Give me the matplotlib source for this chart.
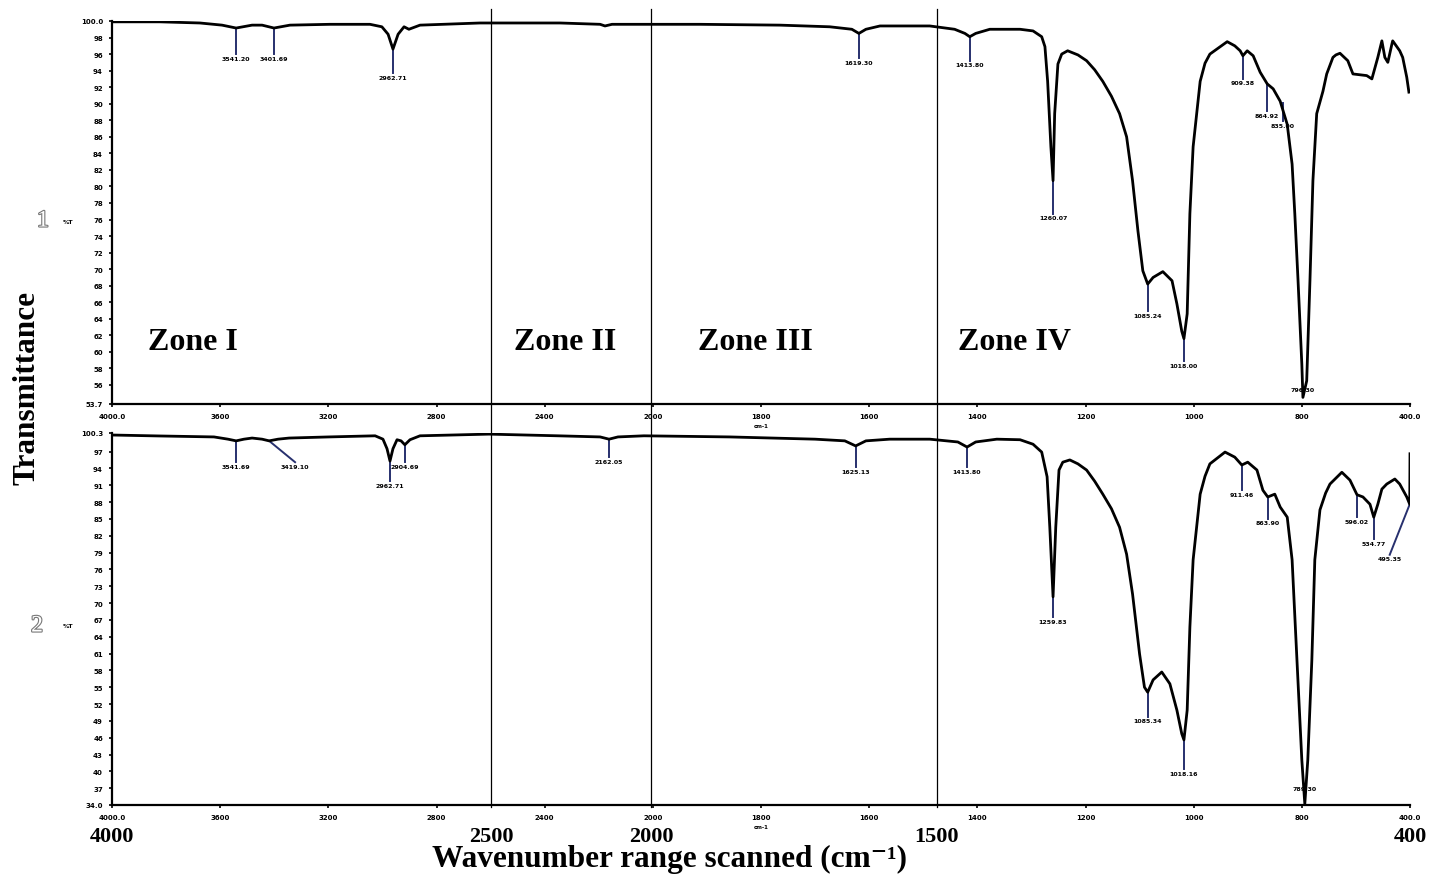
import numpy as np
import matplotlib.pyplot as plt
from matplotlib import patheffects
from matplotlib.transforms import blended_transform_factory

# Spectrum 1 (upper panel)
top_wn = [4000, 3823, 3675, 3593, 3541, 3482, 3445, 3401, 3342, 3194, 3046, 3002, 2979, 2961,
          2942, 2920, 2902, 2861, 2639, 2343, 2195, 2177, 2151, 1913, 1765, 1673, 1632, 1619,
          1606, 1580, 1488, 1442, 1423, 1414, 1403, 1377, 1321, 1297, 1281, 1275, 1270, 1264,
          1260, 1257, 1251, 1244, 1233, 1214, 1198, 1183, 1168, 1152, 1137, 1124, 1113, 1103,
          1094, 1085, 1075, 1057, 1040, 1031, 1022, 1018, 1012, 1007, 1001, 988, 979, 970, 938,
          924, 914, 909, 901, 890, 877, 864, 853, 840, 827, 818, 813, 807, 800, 796, 782, 770,
          759, 745, 722, 708, 685, 674, 659, 630, 611, 560, 541, 519, 504, 493, 482, 467, 464,
          438, 427, 412, 404]
top_T = [99.9, 99.9, 99.76, 99.5, 99.15, 99.5, 99.5, 99.15, 99.5, 99.6, 99.6, 99.3, 98.4, 96.6,
         98.4, 99.3, 99.0, 99.5, 99.76, 99.76, 99.6, 99.4, 99.6, 99.6, 99.5, 99.3, 99.0, 98.5,
         99.0, 99.4, 99.4, 99.0, 98.5, 98.1, 98.5, 99.0, 99.0, 98.8, 98.1, 96.9, 92.7, 84.8,
         80.7, 88.8, 94.8, 96.0, 96.4, 95.9, 95.2, 94.1, 92.7, 90.9, 88.8, 86.0, 80.7, 74.6,
         69.8, 68.2, 69.0, 69.7, 68.6, 65.8, 62.5, 61.6, 64.6, 76.7, 84.8, 92.7, 94.9, 96.0, 97.5,
         97.0, 96.4, 95.8, 96.4, 95.8, 93.8, 92.4, 91.8, 90.3, 87.5, 82.7, 76.7, 68.6, 58.5, 54.5,
         56.5, 68.6, 80.7, 88.8, 91.5, 93.6, 95.6, 95.9, 96.1, 95.2, 93.6, 93.4, 93.0, 95.6, 97.6,
         95.6, 95.0, 97.2, 97.6, 96.4, 95.6, 93.2, 91.4]

# Spectrum 2 (lower panel)
bot_wn = [4000, 3823, 3623, 3571, 3541, 3512, 3482, 3445, 3419, 3386, 3345, 3198, 3027, 2998,
          2983, 2972, 2961, 2946, 2931, 2917, 2898, 2861, 2606, 2351, 2195, 2162, 2129, 2033,
          1858, 1700, 1645, 1625, 1606, 1562, 1488, 1436, 1419, 1403, 1364, 1321, 1297, 1281,
          1271, 1266, 1260, 1255, 1249, 1242, 1229, 1214, 1198, 1183, 1168, 1152, 1137, 1124,
          1113, 1100, 1091, 1085, 1075, 1059, 1044, 1031, 1022, 1018, 1012, 1007, 1001, 988,
          979, 970, 942, 924, 911, 900, 883, 872, 863, 850, 840, 827, 818, 809, 800, 789, 778,
          763, 752, 733, 712, 696, 652, 622, 596, 574, 548, 534, 519, 504, 486, 456, 438, 412,
          401, 400]
bot_T = [99.94, 99.77, 99.6, 99.2, 98.9, 99.2, 99.4, 99.2, 98.9, 99.2, 99.4, 99.6, 99.8, 99.2,
         97.5, 95.3, 97.5, 99.1, 98.9, 98.2, 99.1, 99.8, 100.1, 99.8, 99.6, 99.2, 99.6, 99.8,
         99.6, 99.2, 98.9, 98.0, 98.9, 99.2, 99.2, 98.7, 97.8, 98.7, 99.2, 99.1, 98.3, 96.9,
         92.5, 83.5, 71.1, 83.5, 93.7, 95.1, 95.5, 94.8, 93.7, 91.7, 89.4, 86.8, 83.5, 78.7,
         71.6, 60.9, 55.0, 54.1, 56.3, 57.7, 55.6, 50.9, 46.7, 45.6, 50.9, 65.7, 77.7, 89.4,
         92.6, 94.8, 96.9, 96.0, 94.6, 95.1, 93.7, 90.1, 88.9, 89.4, 87.1, 85.3, 77.7, 59.8,
         42.0, 34.2, 42.0, 59.8, 77.7, 86.6, 89.6, 91.2, 93.3, 91.9, 89.3, 88.9, 87.6, 85.3, 87.6,
         90.3, 91.2, 92.1, 91.2, 88.9, 87.6, 96.6]

# peak picks: position, curve value, marker end, label
top_pk_wn = [3541, 3401, 2961, 1619, 1414, 1260, 1085, 1018, 909, 864, 835, 796]
top_pk_T = [99.15, 99.15, 96.6, 98.5, 98.1, 80.7, 68.2, 61.6, 95.8, 92.4, 90.1, 55.9]
top_pk_end_wn = top_pk_wn
top_pk_end = [96.0, 96.0, 93.7, 95.5, 95.2, 76.7, 64.9, 58.9, 93.0, 89.1, 87.9, 55.9]
top_pk_lab = ['3541.20', '3401.69', '2962.71', '1619.30', '1413.80', '1260.07', '1085.24',
              '1018.00', '909.38', '864.92', '835.00', '796.30']

bot_pk_wn = [3541, 3419, 2972, 2917, 2162, 1625, 1419, 1260, 1085, 1018, 911, 863, 789, 596, 534, 401]
bot_pk_T = [98.9, 98.9, 95.3, 98.2, 99.2, 98.0, 97.8, 71.1, 54.1, 45.6, 94.6, 88.9, 37.6, 89.3, 85.3, 87.6]
bot_pk_end_wn = [3541, 3323, 2972, 2917, 2162, 1625, 1419, 1260, 1085, 1018, 911, 863, 789, 596, 534, 475]
bot_pk_end = [95.1, 95.1, 91.7, 95.1, 96.0, 94.2, 94.2, 67.5, 49.7, 40.4, 90.1, 85.0, 37.6, 85.3, 81.4, 78.6]
bot_pk_lab = ['3541.69', '3419.10', '2962.71', '2904.69', '2162.05', '1625.13', '1413.80', '1259.83',
              '1085.34', '1018.16', '911.46', '863.90', '789.30', '596.02', '534.77', '495.35']

# instrument axis: 400 cm-1 per division above 2000, 200 below, last division 800-400
x_ticks = [4000, 3600, 3200, 2800, 2400, 2000, 1800, 1600, 1400, 1200, 1000, 800, 400]
x_tick_labels = ['4000.0', '3600', '3200', '2800', '2400', '2000', '1800', '1600',
                 '1400', '1200', '1000', '800', '400.0']
brk_wn = [400, 800, 2000, 4000]
brk_pos = [-12, -11, -5, 0]

top_yticks = [53.7] + list(range(56, 99, 2)) + [100.0]
top_ylabels = ['53.7'] + [str(v) for v in range(56, 99, 2)] + ['100.0']
bot_yticks = [34.0] + list(range(37, 99, 3)) + [100.3]
bot_ylabels = ['34.0'] + [str(v) for v in range(37, 99, 3)] + ['100.3']

zone_wn = [2598, 2007, 1475]
zone_names = ['Zone I', 'Zone II', 'Zone III', 'Zone IV']
big_wn = [4000, 2598, 2007, 1475, 400]
big_labels = ['4000', '2500', '2000', '1500', '400']


def fwd(w):
    return np.interp(w, brk_wn, brk_pos)


def inv(p):
    return np.interp(p, brk_pos, brk_wn)


W, H = 1446, 878
fig = plt.figure(figsize=(W / 100, H / 100), dpi=100)
ax1 = fig.add_axes([112 / W, 1 - 405 / H, 1298 / W, 383 / H])
ax2 = fig.add_axes([112 / W, 1 - 806 / H, 1298 / W, 372 / H])

serif = ['Liberation Serif', 'DejaVu Serif']
mark_col = '#27306e'

panels = [
    (ax1, top_wn, top_T, (53.7, 100.0), top_yticks, top_ylabels,
     top_pk_wn, top_pk_T, top_pk_end_wn, top_pk_end, top_pk_lab),
    (ax2, bot_wn, bot_T, (34.0, 100.3), bot_yticks, bot_ylabels,
     bot_pk_wn, bot_pk_T, bot_pk_end_wn, bot_pk_end, bot_pk_lab),
]

for ax, wn, T, ylim, yt, ytl, pw, pt, pew, pe, pl in panels:
    ax.set_xscale('function', functions=(fwd, inv))
    ax.plot(wn, T, color='black', lw=2.0, zorder=3, solid_joinstyle='round')
    for a, b, c, d, s in zip(pw, pt, pew, pe, pl):
        if b != d:
            ax.plot([a, c], [b, d], color=mark_col, lw=1.4, zorder=2)
        ax.text(c, d - (ylim[1] - ylim[0]) * 0.004, s, fontsize=4.5, fontweight='bold',
                ha='center', va='top', zorder=4)
    ax.set_xlim(4000, 400)
    ax.set_ylim(*ylim)
    ax.set_xticks(x_ticks)
    ax.set_xticklabels(x_tick_labels)
    ax.set_yticks(yt)
    ax.set_yticklabels(ytl)
    ax.minorticks_off()
    ax.tick_params(labelsize=5, length=2.5, width=1.2, pad=4)
    for lab in ax.get_xticklabels() + ax.get_yticklabels():
        lab.set_fontweight('bold')
    for sp in ['top', 'right']:
        ax.spines[sp].set_visible(False)
    for sp in ['left', 'bottom']:
        ax.spines[sp].set_linewidth(1.6)
    ax.patch.set_alpha(0)
    ax.text(1800, ylim[0] - (ylim[1] - ylim[0]) * 0.05, 'cm-1', fontsize=4,
            fontweight='bold', ha='center', va='top')

# zone separators across both panels
tr = blended_transform_factory(ax2.transData, fig.transFigure)
for z in zone_wn:
    ax2.plot([z, z], [1 - 808 / H, 1 - 10 / H], color='black', lw=0.9,
             transform=tr, clip_on=False, zorder=1)
for z, s in zip(big_wn, big_labels):
    ax2.text(z, 1 - 837 / H, s, transform=tr, ha='center', va='center',
             fontsize=16, fontweight='bold', family=serif)

zone_x = [193, 565, 755, 1015]
for zx, s in zip(zone_x, zone_names):
    fig.text(zx / W, 1 - 343 / H, s, ha='center', va='center', fontsize=23,
             fontweight='bold', family=serif)

fig.text(670 / W, 1 - 859 / H, 'Wavenumber range scanned (cm\u207b\u00b9)', ha='center',
         va='center', fontsize=22.5, fontweight='bold', family=serif)
fig.text(27 / W, 1 - 388 / H, 'Transmittance', rotation=90, ha='center', va='center',
         fontsize=22.5, fontweight='bold', family=serif)

for s, px, py in [('1', 43, 222), ('2', 37, 627)]:
    fig.text(px / W, 1 - py / H, s, ha='center', va='center', fontsize=17,
             family=serif, color='white',
             path_effects=[patheffects.withStroke(linewidth=1.6, foreground='#777777')])
for py in [222, 627]:
    fig.text(68 / W, 1 - py / H, '%T', ha='center', va='center', fontsize=4.5,
             fontweight='bold')

fig.savefig('out.png', dpi=100, facecolor='white')
